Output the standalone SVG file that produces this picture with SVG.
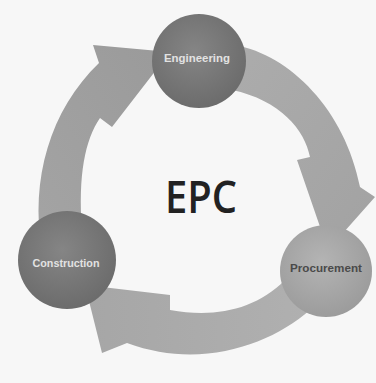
<svg xmlns="http://www.w3.org/2000/svg" width="376" height="383" viewBox="0 0 376 383">
<defs>
<linearGradient id="arrowL" x1="0" y1="1" x2="1" y2="0"><stop offset="0" stop-color="#a4a4a4"/><stop offset="1" stop-color="#9a9a9a"/></linearGradient>
<linearGradient id="arrowR" x1="0" y1="0" x2="1" y2="1"><stop offset="0" stop-color="#acacac"/><stop offset="1" stop-color="#a2a2a2"/></linearGradient>
<linearGradient id="arrowB" x1="1" y1="0" x2="0" y2="0"><stop offset="0" stop-color="#b0b0b0"/><stop offset="1" stop-color="#a6a6a6"/></linearGradient>
<radialGradient id="gDark" cx="0.45" cy="0.4" r="0.6"><stop offset="0" stop-color="#858585"/><stop offset="1" stop-color="#6c6c6c"/></radialGradient>
<radialGradient id="gLight" cx="0.45" cy="0.4" r="0.6"><stop offset="0" stop-color="#b4b4b4"/><stop offset="1" stop-color="#9c9c9c"/></radialGradient>
<style>
.lbl{font-family:"Liberation Sans",Arial,sans-serif;font-size:11px;font-weight:bold;text-anchor:middle}
.light{fill:#e2e2e2}
.dark{fill:#4a4a4a}
.title{font-family:"Open Sans","Liberation Sans",sans-serif;font-size:46px;font-weight:600;fill:#222;text-anchor:middle}
</style>
</defs>
<rect width="376" height="383" fill="#f7f7f7"/>
<g id="connectors">
<path d="M42,250 C30,180 50,110 99,63 L93,45 L170,52 L112,127 L100,118 C85,140 78,175 82,230 Z" fill="url(#arrowL)"/>
<path d="M235,45 C290,55 345,110 360,187 L375,197 L328,250 L297,160 L310,157 C305,130 280,100 232,90 Z" fill="url(#arrowR)"/>
<path d="M310,310 C270,345 200,370 127,343 L102,353 L85,285 L170,295 L170,310 C215,318 255,310 285,280 Z" fill="url(#arrowB)"/>
</g>
<g id="engineering">
<circle cx="199" cy="61" r="47" fill="url(#gDark)"/>
<text class="lbl light" x="197" y="62" textLength="66" lengthAdjust="spacingAndGlyphs">Engineering</text>
</g>
<g id="procurement">
<circle cx="326" cy="271" r="46" fill="url(#gLight)"/>
<text class="lbl dark" x="326" y="272" textLength="72" lengthAdjust="spacingAndGlyphs">Procurement</text>
</g>
<g id="construction">
<circle cx="67" cy="260" r="49" fill="url(#gDark)"/>
<text class="lbl light" x="66" y="267" textLength="67" lengthAdjust="spacingAndGlyphs">Construction</text>
</g>
<g id="center">
<text class="title" x="201" y="213" textLength="72" lengthAdjust="spacingAndGlyphs">EPC</text>
</g>
</svg>
